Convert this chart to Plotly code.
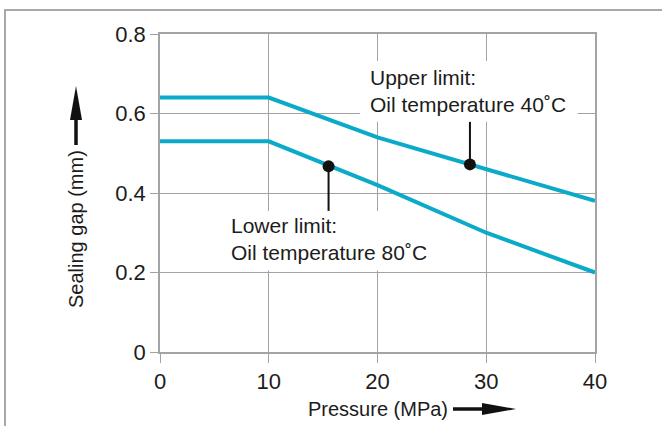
import plotly.graph_objects as go

# data
pressure = [0, 10, 20, 30, 40]
upper_gap = [0.64, 0.64, 0.54, 0.46, 0.38]   # oil temperature 40 C
lower_gap = [0.53, 0.53, 0.42, 0.30, 0.20]   # oil temperature 80 C

marker_p = [15.5, 28.5]
marker_gap = [0.467, 0.472]
leader_end = [0.355, 0.579]

x_ticks = [0, 10, 20, 30, 40]
y_ticks = [0, 0.2, 0.4, 0.6, 0.8]

W, H = 662, 426
L, R, T, B = 160, 67, 34, 74
FONT = "Liberation Sans"
CYAN = "#0aaac8"
GRID = "#a3a3a3"
TXT = "#1c1c1c"


def px(xp):
    return (xp - L) / (W - L - R)


def py(yp):
    return (H - B - yp) / (H - T - B)


fig = go.Figure()
fig.add_trace(go.Scatter(x=pressure, y=upper_gap, mode="lines",
                         line=dict(color=CYAN, width=4), hoverinfo="skip"))
fig.add_trace(go.Scatter(x=pressure, y=lower_gap, mode="lines",
                         line=dict(color=CYAN, width=4), hoverinfo="skip"))
fig.add_trace(go.Scatter(x=marker_p, y=marker_gap, mode="markers",
                         marker=dict(color="#111", size=12), hoverinfo="skip"))

shapes = []
# white label boxes hiding the grid
shapes.append(dict(type="rect", xref="x", yref="y", x0=18.4, x1=38.4, y0=0.579, y1=0.732,
                   fillcolor="white", line=dict(width=0), layer="between"))
shapes.append(dict(type="rect", xref="x", yref="y", x0=5.4, x1=25.4, y0=0.205, y1=0.355,
                   fillcolor="white", line=dict(width=0), layer="between"))
# leader lines
for xp, yg, ye in zip(marker_p, marker_gap, leader_end):
    shapes.append(dict(type="line", xref="x", yref="y", x0=xp, x1=xp, y0=yg, y1=ye,
                       line=dict(color="#111", width=2)))

# outer frame (left and top)
shapes.append(dict(type="path", xref="paper", yref="paper",
                   path=f"M{px(5)},{py(430)} L{px(5)},{py(10)} L{px(665)},{py(10)}",
                   line=dict(color="#a8a8a8", width=2)))

# axis arrows
shapes.append(dict(type="line", xref="paper", yref="paper", x0=px(453), x1=px(488),
                   y0=py(409), y1=py(409), line=dict(color="#111", width=3.5)))
shapes.append(dict(type="path", xref="paper", yref="paper", fillcolor="#111",
                   line=dict(width=0),
                   path=f"M{px(482)},{py(403)} L{px(516)},{py(409)} L{px(482)},{py(415)} Z"))
shapes.append(dict(type="line", xref="paper", yref="paper", x0=px(76), x1=px(76),
                   y0=py(145), y1=py(115), line=dict(color="#111", width=3.5)))
shapes.append(dict(type="path", xref="paper", yref="paper", fillcolor="#111",
                   line=dict(width=0),
                   path=f"M{px(70)},{py(120)} L{px(76)},{py(86)} L{px(82)},{py(120)} Z"))

annotations = [
    dict(x=19.1, y=0.657, xref="x", yref="y", xanchor="left", yanchor="middle", align="left",
         text="Upper limit:<br>Oil temperature 40˚C", showarrow=False,
         font=dict(family=FONT, size=21, color=TXT)),
    dict(x=6.3, y=0.284, xref="x", yref="y", xanchor="left", yanchor="middle", align="left",
         text="Lower limit:<br>Oil temperature 80˚C", showarrow=False,
         font=dict(family=FONT, size=21, color=TXT)),
    dict(x=px(378), y=py(409), xref="paper", yref="paper", xanchor="center", yanchor="middle",
         text="Pressure (MPa)", showarrow=False, font=dict(family=FONT, size=20, color=TXT)),
    dict(x=px(76), y=py(229), xref="paper", yref="paper", xanchor="center", yanchor="middle",
         text="Sealing gap (mm)", textangle=-90, showarrow=False,
         font=dict(family=FONT, size=20, color=TXT)),
]

fig.update_layout(
    width=W, height=H,
    margin=dict(l=L, r=R, t=T, b=B),
    paper_bgcolor="white", plot_bgcolor="white",
    showlegend=False,
    font=dict(family=FONT, size=22, color=TXT),
    shapes=shapes,
    annotations=annotations,
)
fig.update_xaxes(range=[0, 40], tickvals=x_ticks, ticks="outside", ticklen=9,
                 tickcolor=GRID, showgrid=True, gridcolor=GRID, gridwidth=1,
                 showline=True, linecolor=GRID, linewidth=1.5, mirror=True,
                 zeroline=False, fixedrange=True, tickfont=dict(size=22))
fig.update_yaxes(range=[0, 0.8], tickvals=y_ticks, ticktext=["0", "0.2", "0.4", "0.6", "0.8"],
                 ticks="outside", ticklen=8,
                 tickcolor=GRID, showgrid=True, gridcolor=GRID, gridwidth=1,
                 showline=True, linecolor=GRID, linewidth=1.5, mirror=True,
                 zeroline=False, fixedrange=True, tickfont=dict(size=22))

fig.write_html("out.html", config={"displayModeBar": False},
               post_script="document.body.style.margin='0';document.body.style.overflow='hidden';")
